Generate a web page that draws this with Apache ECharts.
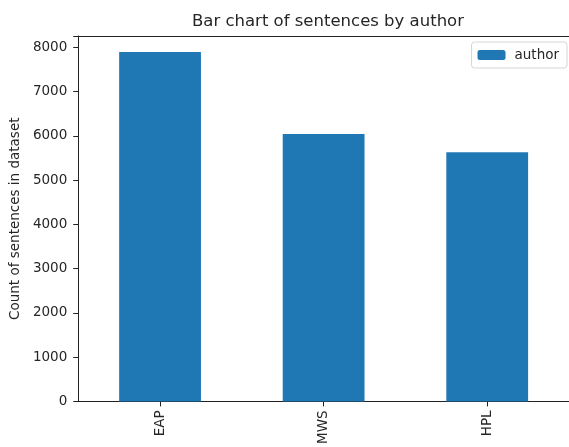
<!DOCTYPE html>
<html>
<head>
<meta charset="utf-8">
<script src="https://cdn.jsdelivr.net/npm/echarts@6/dist/echarts.min.js"></script>
<style>
  html, body { margin: 0; padding: 0; background: #fff; overflow: hidden; }
  #chart { width: 569px; height: 447px; }
</style>
</head>
<body>
<div id="chart"></div>
<script>
// Sentence counts per author in the dataset
const authors = ['EAP', 'MWS', 'HPL'];
const sentenceCounts = [7900, 6044, 5635];
const yTicks = [0, 1000, 2000, 3000, 4000, 5000, 6000, 7000, 8000];

const font = 'DejaVu Sans';
const ink = '#262626';
const spine = '#222';

const chart = echarts.init(document.getElementById('chart'), null, { renderer: 'canvas' });

chart.setOption({
  backgroundColor: '#fff',
  animation: false,
  textStyle: { fontFamily: font, color: ink },
  title: {
    text: 'Bar chart of sentences by author',
    left: 323,
    top: 8,
    textAlign: 'center',
    textStyle: { fontFamily: font, fontSize: 16.5, fontWeight: 'normal', color: ink }
  },
  legend: {
    data: ['author'],
    right: 2,
    top: 42,
    orient: 'vertical',
    itemWidth: 28,
    itemHeight: 10,
    itemGap: 8,
    padding: [6, 8, 6, 6],
    borderColor: '#d6d6d6',
    borderWidth: 1,
    borderRadius: 3,
    backgroundColor: '#fff',
    textStyle: { fontFamily: font, fontSize: 13.5, color: ink, padding: [0, 0, 0, 4] }
  },
  grid: {
    left: 75,
    right: -4,
    top: 36,
    bottom: 42,
    show: false
  },
  xAxis: [{
    type: 'category',
    data: authors,
    boundaryGap: true,
    axisLine: { show: true, lineStyle: { color: spine, width: 1 } },
    axisTick: { show: true, alignWithLabel: true, length: 5, lineStyle: { color: spine } },
    axisLabel: {
      rotate: 90,
      margin: 9,
      fontFamily: font,
      fontSize: 13.5,
      color: ink
    },
    splitLine: { show: false }
  }, {
    // top spine of the plot frame
    type: 'category',
    data: authors,
    position: 'top',
    axisLine: { show: true, lineStyle: { color: spine, width: 1 } },
    axisTick: { show: false },
    axisLabel: { show: false },
    splitLine: { show: false }
  }],
  yAxis: {
    type: 'value',
    min: 0,
    max: 8260,
    interval: 1000,
    name: 'Count of sentences in dataset',
    nameLocation: 'middle',
    nameGap: 52,
    nameTextStyle: { fontFamily: font, fontSize: 13.5, color: ink },
    axisLine: { show: true, lineStyle: { color: spine, width: 1 } },
    axisTick: { show: true, length: 5, lineStyle: { color: spine } },
    axisLabel: {
      margin: 11,
      fontFamily: font,
      fontSize: 13.5,
      color: ink,
      formatter: (v) => (yTicks.includes(v) ? String(v) : '')
    },
    splitLine: { show: false }
  },
  series: [{
    name: 'author',
    type: 'bar',
    xAxisIndex: 0,
    data: sentenceCounts,
    barWidth: '50%',
    itemStyle: { color: '#1f77b4' }
  }]
});
</script>
</body>
</html>
